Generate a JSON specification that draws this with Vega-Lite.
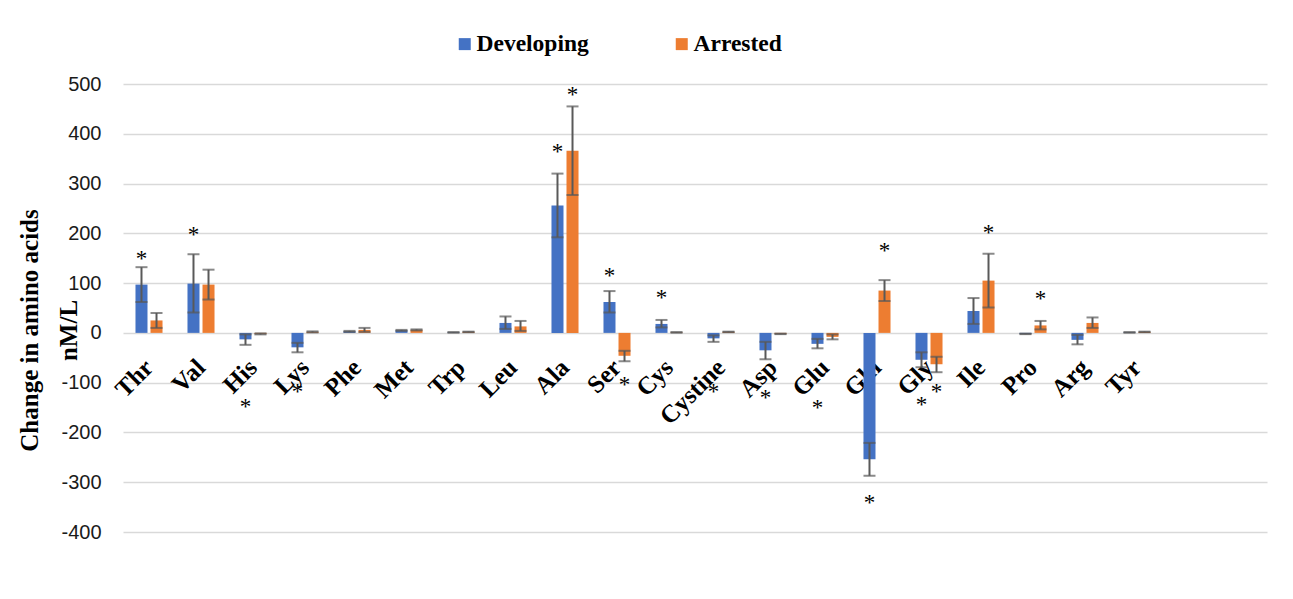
{
  "$schema": "https://vega.github.io/schema/vega-lite/v6.json",
  "autosize": {"type": "none"},
  "width": 1144,
  "height": 448,
  "padding": {"left": 123, "top": 84, "right": 26, "bottom": 67},
  "background": "white",
  "config": {"view": {"stroke": null}},
  "data": {"values": [
    {"aa": "Thr", "series": "Developing", "value": 97, "lo": 62, "hi": 132, "star": 157},
    {"aa": "Thr", "series": "Arrested", "value": 25, "lo": 10, "hi": 40, "star": null},
    {"aa": "Val", "series": "Developing", "value": 99, "lo": 41, "hi": 158, "star": 205},
    {"aa": "Val", "series": "Arrested", "value": 97, "lo": 67, "hi": 127, "star": null},
    {"aa": "His", "series": "Developing", "value": -13, "lo": -24, "hi": -3, "star": -140},
    {"aa": "His", "series": "Arrested", "value": -2, "lo": -3, "hi": -1, "star": null},
    {"aa": "Lys", "series": "Developing", "value": -29, "lo": -39, "hi": -20, "star": -110},
    {"aa": "Lys", "series": "Arrested", "value": 2, "lo": 1, "hi": 3, "star": null},
    {"aa": "Phe", "series": "Developing", "value": 3, "lo": 2, "hi": 4, "star": null},
    {"aa": "Phe", "series": "Arrested", "value": 6, "lo": 2, "hi": 10, "star": null},
    {"aa": "Met", "series": "Developing", "value": 5, "lo": 4, "hi": 6, "star": null},
    {"aa": "Met", "series": "Arrested", "value": 6, "lo": 5, "hi": 7, "star": null},
    {"aa": "Trp", "series": "Developing", "value": 1, "lo": 0.5, "hi": 1.5, "star": null},
    {"aa": "Trp", "series": "Arrested", "value": 2, "lo": 1.5, "hi": 2.5, "star": null},
    {"aa": "Leu", "series": "Developing", "value": 20, "lo": 8, "hi": 33, "star": null},
    {"aa": "Leu", "series": "Arrested", "value": 13, "lo": 4, "hi": 24, "star": null},
    {"aa": "Ala", "series": "Developing", "value": 256, "lo": 192, "hi": 320, "star": 372},
    {"aa": "Ala", "series": "Arrested", "value": 366, "lo": 277, "hi": 455, "star": 486},
    {"aa": "Ser", "series": "Developing", "value": 62, "lo": 41, "hi": 84, "star": 123},
    {"aa": "Ser", "series": "Arrested", "value": -46, "lo": -57, "hi": -36, "star": -97},
    {"aa": "Cys", "series": "Developing", "value": 18, "lo": 11, "hi": 26, "star": 78},
    {"aa": "Cys", "series": "Arrested", "value": 1, "lo": 0.5, "hi": 1.5, "star": null},
    {"aa": "Cystine", "series": "Developing", "value": -11, "lo": -18, "hi": -5, "star": -111},
    {"aa": "Cystine", "series": "Arrested", "value": 2, "lo": 1.5, "hi": 2.5, "star": null},
    {"aa": "Asp", "series": "Developing", "value": -35, "lo": -53, "hi": -18, "star": -122},
    {"aa": "Asp", "series": "Arrested", "value": -2, "lo": -2.5, "hi": -1.5, "star": null},
    {"aa": "Glu", "series": "Developing", "value": -22, "lo": -31, "hi": -12, "star": -143},
    {"aa": "Glu", "series": "Arrested", "value": -8, "lo": -13, "hi": -3, "star": null},
    {"aa": "Gln", "series": "Developing", "value": -254, "lo": -287, "hi": -221, "star": -333},
    {"aa": "Gln", "series": "Arrested", "value": 85, "lo": 64, "hi": 106, "star": 173},
    {"aa": "Gly", "series": "Developing", "value": -54, "lo": -69, "hi": -39, "star": -137},
    {"aa": "Gly", "series": "Arrested", "value": -63, "lo": -79, "hi": -48, "star": -110},
    {"aa": "Ile", "series": "Developing", "value": 44, "lo": 18, "hi": 70, "star": null},
    {"aa": "Ile", "series": "Arrested", "value": 105, "lo": 51, "hi": 159, "star": 209},
    {"aa": "Pro", "series": "Developing", "value": -2, "lo": -2.5, "hi": -1.5, "star": null},
    {"aa": "Pro", "series": "Arrested", "value": 15, "lo": 7, "hi": 24, "star": 76},
    {"aa": "Arg", "series": "Developing", "value": -14, "lo": -23, "hi": -4, "star": null},
    {"aa": "Arg", "series": "Arrested", "value": 20, "lo": 10, "hi": 31, "star": null},
    {"aa": "Tyr", "series": "Developing", "value": 1, "lo": 0.5, "hi": 1.5, "star": null},
    {"aa": "Tyr", "series": "Arrested", "value": 2, "lo": 1.5, "hi": 2.5, "star": null}
  ]},
  "encoding": {
    "x": {
      "field": "aa", "type": "nominal", "sort": null,
      "scale": {
        "domain": ["Thr","Val","His","Lys","Phe","Met","Trp","Leu","Ala","Ser","Cys","Cystine","Asp","Glu","Gln","Gly","Ile","Pro","Arg","Tyr"," ","  "],
        "paddingInner": 0.48, "paddingOuter": 0.24
      },
      "axis": {
        "title": null, "ticks": false, "domain": false, "grid": false,
        "labelAngle": -45, "labelAlign": "right", "labelBaseline": "middle",
        "labelFont": "Liberation Serif", "labelFontWeight": "bold", "labelFontSize": 25,
        "labelColor": "#000000", "labelPadding": 3, "offset": -172
      }
    },
    "xOffset": {
      "field": "series", "type": "nominal",
      "scale": {"domain": ["Developing", "Arrested"], "paddingInner": 0.2, "paddingOuter": 0}
    }
  },
  "layer": [
    {
      "mark": {"type": "bar"},
      "encoding": {
        "y": {
          "field": "value", "type": "quantitative",
          "scale": {"domain": [-400, 500], "nice": false},
          "axis": {
            "values": [-400,-300,-200,-100,0,100,200,300,400,500],
            "labelExpr": "'' + datum.value",
            "grid": true, "gridColor": "#d9d9d9", "gridWidth": 1.5,
            "domain": false, "ticks": false, "labelPadding": 22,
            "labelFont": "Liberation Sans", "labelFontSize": 20, "labelColor": "#1a1a1a",
            "title": ["Change in amino acids", "nM/L"],
            "titleFont": "Liberation Serif", "titleFontWeight": "bold", "titleFontSize": 25,
            "titleColor": "#000000", "titleLineHeight": 39,
            "titleX": -81, "titleY": 246, "titleAngle": -90, "titleBaseline": "bottom", "titleAlign": "center"
          }
        },
        "color": {
          "field": "series", "type": "nominal",
          "scale": {"domain": ["Developing", "Arrested"], "range": ["#4472C4", "#ED7D31"]},
          "legend": {
            "title": null, "orient": "none", "direction": "horizontal",
            "legendX": 330, "legendY": -52,
            "symbolType": "square", "symbolSize": 144, "symbolStrokeWidth": 0,
            "labelFont": "Liberation Serif", "labelFontWeight": "bold", "labelFontSize": 23.5,
            "labelColor": "#000000", "labelOffset": 0, "columnPadding": 81
          }
        }
      }
    },
    {
      "mark": {"type": "rule", "color": "#595959", "strokeWidth": 2},
      "encoding": {
        "y": {"field": "lo", "type": "quantitative"},
        "y2": {"field": "hi"}
      }
    },
    {
      "mark": {"type": "tick", "color": "#595959", "size": 12, "thickness": 2},
      "encoding": {"y": {"field": "lo", "type": "quantitative"}}
    },
    {
      "mark": {"type": "tick", "color": "#595959", "size": 12, "thickness": 2},
      "encoding": {"y": {"field": "hi", "type": "quantitative"}}
    },
    {
      "transform": [{"filter": "datum.star != null"}],
      "mark": {"type": "text", "text": "*", "font": "Liberation Serif", "fontSize": 23, "baseline": "alphabetic", "dy": 11, "color": "#000000"},
      "encoding": {"y": {"field": "star", "type": "quantitative"}}
    }
  ]
}
